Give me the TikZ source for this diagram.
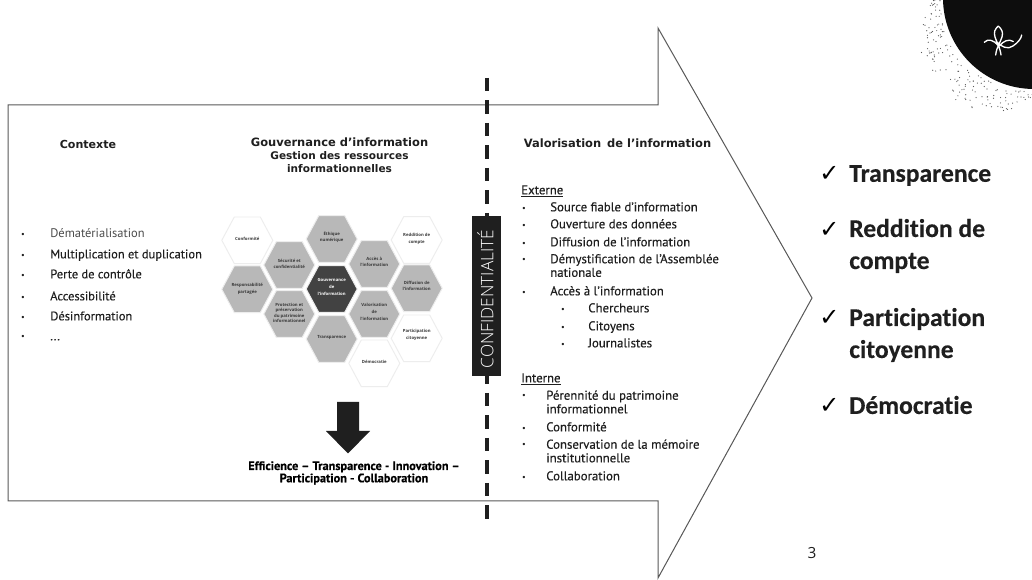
\documentclass[tikz,border=0pt]{standalone}
\usepackage{fontspec}
\setmainfont{Open Sans}
\newfontfamily\hdfont{DejaVu Sans}
\newfontfamily\bigfont[Ligatures=NoCommon,BoldFeatures={FakeBold=0.3}]{Carlito}
\newfontfamily\chkfont{DejaVu Sans}
\newfontfamily\listfont[FakeBold=0.25]{PT Sans}
\newfontfamily\listlight{PT Sans}
\newfontfamily\efffont[BoldFeatures={FakeBold=0.4}]{PT Sans}
\newfontfamily\conffont{Open Sans Light}
\definecolor{hexgrey}{gray}{0.72}
\definecolor{hexdark}{gray}{0.26}
\definecolor{hexline}{gray}{0.93}
\definecolor{ink}{gray}{0.12}
\definecolor{edge}{gray}{0.35}
\tikzset{
  px/.style={x=0.75pt,y=-0.75pt},
  hx/.style={fill=#1,draw=hexline,line width=0.7pt},
  hlab/.style={font=\fontsize{3.2}{4}\selectfont\bfseries,align=center,text=black!78,inner sep=0pt},
  lst/.style={font=\listfont\fontsize{9.6}{10.3}\selectfont,text=ink,anchor=west,inner sep=0pt,text height=7pt,text depth=2pt},
  lstb/.style={font=\listfont\fontsize{9.6}{10.2}\selectfont,text=ink,anchor=west,inner sep=0pt,align=left},
  lstl/.style={lst,font=\listfont\fontsize{9.35}{10.3}\selectfont},
  bul/.style={font=\chkfont\fontsize{6}{6}\selectfont,text=ink,inner sep=0pt},
  hd/.style={font=\hdfont\fontsize{8.6}{9.8}\selectfont\bfseries,text=ink,align=center,inner sep=0pt},
  effs/.style={font=\efffont\fontsize{9.2}{9.2}\selectfont\bfseries,text=black,align=center,inner sep=0pt},
  big/.style={font=\bigfont\fontsize{19.2}{24}\selectfont\bfseries,text=ink,anchor=west,align=left,inner sep=0pt},
  chk/.style={font=\chkfont\fontsize{18}{18}\selectfont,text=black,inner sep=0pt},
}
\newcommand{\hexa}[3]{%
  \path[hx=#3] (#1-25.5,#2) -- (#1-13,#2-23.3) -- (#1+13,#2-23.3) -- (#1+25.5,#2) -- (#1+13,#2+23.3) -- (#1-13,#2+23.3) -- cycle;
}
\begin{document}
\begin{tikzpicture}[px]
\useasboundingbox (0,0) rectangle (1032,580);
\fill[white] (0,0) rectangle (1032,580);
% big arrow
\coordinate (a1) at (8,105); \coordinate (a2) at (658,105); \coordinate (a3) at (658,28);
\coordinate (a4) at (812,298); \coordinate (a5) at (658,578); \coordinate (a6) at (658,501); \coordinate (a7) at (8,501);
\draw[line width=0.75pt,draw=edge] (a1)--(a2)--(a3)--(a4)--(a5)--(a6)--(a7)--cycle;
% logo stipple
\pgfmathsetseed{11}
\foreach \i in {1,...,170}{
  \pgfmathsetmacro{\ang}{rnd*92}
  \pgfmathsetmacro{\rr}{94+rnd*(8+30*sin(2*\ang))}
  \pgfmathsetmacro{\dotx}{1034-\rr*cos(\ang)}
  \pgfmathsetmacro{\doty}{-2+\rr*sin(\ang)}
  \fill[black!65] (\dotx,\doty) circle (0.6);
}
\fill[black!95] (1034,-2) circle (91);
\draw[white,line width=1pt,line cap=round]
  (998.3,26) .. controls (995,29) and (993.5,32) .. (995,37) .. controls (996.5,42) and (1000,47) .. (1001,55)
  (998.3,26) .. controls (1001.5,29) and (1003.5,32) .. (1002,37) .. controls (1000.5,42) and (996.5,47) .. (995.7,55)
  (984.3,42.3) .. controls (988,38.5) and (993,39.5) .. (998.3,45.7)
  (999.5,46) .. controls (1003,41) and (1009,38.5) .. (1013.3,41.5)
  (996,41) .. controls (1001,47) and (1008,50) .. (1013,46) .. controls (1018,42.5) and (1021,39) .. (1021.7,35);
% dashed divider
\coordinate (d1) at (487,78); \coordinate (d2) at (487,520);
\draw[line width=2.5pt,draw=ink,dash pattern=on 10.1pt off 6.77pt] (d1)--(d2);
\node[fill=ink,minimum width=21.8pt,minimum height=120pt,inner sep=0pt] (conf) at (486.5,296) {};
\node[rotate=90,text=white,font=\conffont\fontsize{12.9}{14}\selectfont] (conft) at (485.5,299) {CONFIDENTIALITÉ};
% headings
\node[hd,font=\hdfont\fontsize{8.3}{9.8}\selectfont\bfseries] (h1) at (88,144) {Contexte};
\node[hd] (h2) at (339.5,155.5) {Gouvernance d’information\\[-0.3pt]{\fontsize{7.9}{8.8}\selectfont Gestion des ressources}\\[0.3pt]{\fontsize{7.9}{8.8}\selectfont informationnelles}};
\node[hd] (h3) at (617.5,143) {Valorisation\, de l’information};
% left list
\node[lstl,font=\listlight\fontsize{9.35}{10.3}\selectfont,text=black!70] (l1) at (50,234) {Dématérialisation};
\node[bul] (l1b) at (23,235) {•};
\foreach \n/\y/\t in {l2/255/Multiplication et duplication,l3/275/Perte de contrôle,l4/297/Accessibilité,l5/317/Désinformation}{
  \node[lstl] (\n) at (50,\y) {\t};
  \node[bul] (\n b) at (23,\y+1) {•};
}
\node[lstl] (l6) at (50,337) {{.}{.}{.}};
\node[bul] (l6b) at (23,337) {•};
% hexagons
\hexa{247.3}{240.3}{white}
\hexa{331.7}{239}{hexgrey}
\hexa{289.3}{265}{hexgrey}
\hexa{374.3}{264}{hexgrey}
\hexa{416.7}{240}{white}
\hexa{247.3}{289.3}{hexgrey}
\hexa{416.7}{288.3}{hexgrey}
\hexa{289.3}{314}{hexgrey}
\hexa{331.7}{289}{hexdark}
\hexa{374.3}{314}{hexgrey}
\hexa{416.7}{338.3}{white}
\hexa{331.7}{339}{hexgrey}
\hexa{374.3}{363.3}{white}
\node[hlab] (t01) at (247.3,238.5) {Conformité};
\node[hlab] (t02) at (331.7,237) {Éthique\\[1pt]numérique};
\node[hlab] (t03) at (289.3,264) {Sécurité et\\[1pt]confidentialité};
\node[hlab] (t04) at (374.3,262) {Accès à\\[1pt]l’information};
\node[hlab] (t05) at (416.7,239) {Reddition de\\[1pt]compte};
\node[hlab] (t06) at (247.3,289) {Responsabilité\\[1pt]partagée};
\node[hlab] (t07) at (416.7,286) {Diffusion de\\[1pt]l’information};
\node[hlab] (t08) at (289.3,313) {Protection et\\préservation\\du patrimoine\\informationnel};
\node[hlab,text=white] (t09) at (331.7,287) {Gouvernance\\[1pt]de\\[1pt]l’information};
\node[hlab] (t10) at (374.3,312) {Valorisation\\[1pt]de\\[1pt]l’information};
\node[hlab] (t11) at (416.7,335) {Participation\\[1pt]citoyenne};
\node[hlab] (t12) at (331.7,337.5) {Transparence};
\node[hlab] (t13) at (374.3,361.5) {Démocratie};
% black arrow
\fill[ink] (337,402) -- (359,402) -- (359,431) -- (370,431) -- (348,453.5) -- (326,431) -- (337,431) -- cycle;
\node[effs] (eff) at (354,473) {Efficience – Transparence - Innovation –\\Participation - Collaboration};
% external list
\node[lst] (ex) at (521,191) {\underline{Externe}};
\foreach \n/\y/\t in {e1/208/Source fiable d’information,e2/225/Ouverture des données,e3/243/Diffusion de l’information,e5/292/Accès à l’information}{
  \node[lst] (\n) at (550,\y) {\t};
  \node[bul] (\n b) at (524,\y+1) {•};
}
\node[lstb] (e4) at (550,265.5) {Démystification de l’Assemblée\\nationale};
\node[bul] (e4b) at (524,260) {•};
\foreach \n/\y/\t in {s1/309/Chercheurs,s2/327/Citoyens,s3/344/Journalistes}{
  \node[lst] (\n) at (588,\y) {\t};
  \node[bul] (\n b) at (563,\y+1) {•};
}
% internal list
\node[lst] (in) at (521,379) {\underline{Interne}};
\node[lstb] (i1) at (546,402) {Pérennité du patrimoine\\informationnel};
\node[bul] (i1b) at (524,396) {•};
\node[lst] (i2) at (546,428) {Conformité};
\node[bul] (i2b) at (524,429) {•};
\node[lstb] (i3) at (546,451) {Conservation de la mémoire\\institutionnelle};
\node[bul] (i3b) at (524,445) {•};
\node[lst] (i4) at (546,477) {Collaboration};
\node[bul] (i4b) at (524,478) {•};
% big checks
\foreach \n/\y in {c1/174,c2/230,c3/318,c4/406}{
  \node[chk] (\n) at (829.5,\y) {✓};
}
\node[big] (b1) at (849,175.5) {Transparence};
\node[big] (b2) at (849,246) {Reddition de\\compte};
\node[big] (b3) at (849,335) {Participation\\citoyenne};
\node[big] (b4) at (849,405) {Démocratie};
\node[font=\fontsize{11.5}{14}\selectfont,text=ink,inner sep=0pt] (pg) at (812,553) {3};
\end{tikzpicture}
\end{document}
